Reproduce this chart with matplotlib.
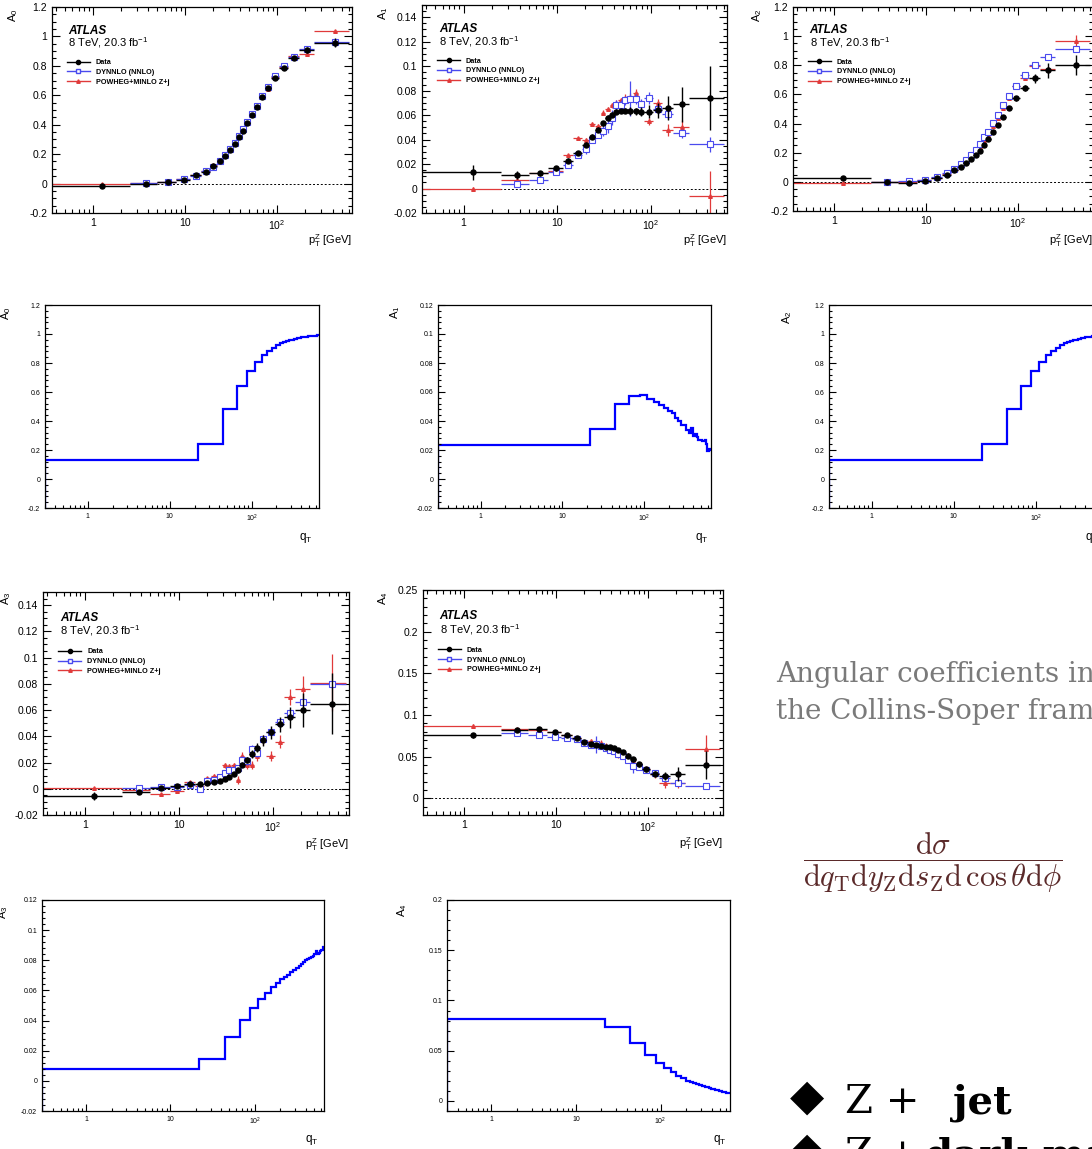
"""
Slide page: ATLAS angular coefficients A0..A4 vs pT(Z) (data, DYNNLO, POWHEG)
next to toy step histograms of the same coefficients vs qT.
"""

import matplotlib
matplotlib.use('Agg')
import matplotlib.pyplot as plt
import numpy as np
from matplotlib.lines import Line2D
from matplotlib.ticker import (FixedLocator, FixedFormatter, FuncFormatter,
                               LogLocator, MultipleLocator, NullFormatter)

plt.rcParams['font.family'] = ['Liberation Sans', 'DejaVu Sans']
plt.rcParams['mathtext.fontset'] = 'custom'
plt.rcParams['mathtext.rm'] = 'Liberation Sans'
plt.rcParams['mathtext.it'] = 'Liberation Sans:italic'

W, H = 1092, 1149

# ---------------------------------------------------------------------------
# ATLAS 8 TeV measurement (values read off the figure)
# DYNNLO has no prediction in the first bin -> nan
# ---------------------------------------------------------------------------
pt_edges = [0, 2.5, 5.0, 8.0, 11.4, 14.9, 18.5, 22.0, 25.5, 29.0, 32.6, 36.4,
            40.4, 44.9, 50.2, 56.4, 63.9, 73.4, 85.4, 105.0, 132.0, 173.0,
            253.0, 600.0]

a0_data = [-0.015, -0.005, 0.010, 0.027, 0.055, 0.082, 0.119, 0.153, 0.187, 0.228, 0.267, 0.315,
           0.360, 0.410, 0.465, 0.522, 0.586, 0.648, 0.720, 0.786, 0.853, 0.910, 0.957]
a0_data_err = [0.010, 0.008, 0.006, 0.006, 0.006, 0.006, 0.006, 0.006, 0.006, 0.006, 0.006, 0.006,
               0.006, 0.006, 0.006, 0.007, 0.007, 0.008, 0.010, 0.010, 0.014, 0.020, 0.030]
a0_dyn = [np.nan, 0.005, 0.012, 0.030, 0.052, 0.085, 0.115, 0.155, 0.192, 0.235, 0.275, 0.322,
          0.368, 0.420, 0.472, 0.530, 0.592, 0.655, 0.730, 0.797, 0.860, 0.915, 0.965]
a0_dyn_err = [0.004, 0.004, 0.004, 0.004, 0.004, 0.004, 0.004, 0.004, 0.004, 0.004, 0.004, 0.004,
              0.004, 0.004, 0.004, 0.004, 0.005, 0.005, 0.005, 0.005, 0.006, 0.008, 0.010]
a0_pow = [-0.005, 0.005, 0.012, 0.032, 0.058, 0.085, 0.124, 0.158, 0.190, 0.232, 0.270, 0.318,
          0.362, 0.412, 0.468, 0.525, 0.588, 0.645, 0.722, 0.790, 0.870, 0.880, 1.035]
a0_pow_err = [0.004, 0.004, 0.004, 0.004, 0.004, 0.004, 0.004, 0.004, 0.004, 0.004, 0.004, 0.004,
              0.004, 0.004, 0.004, 0.004, 0.005, 0.005, 0.005, 0.005, 0.006, 0.008, 0.012]

a1_data = [0.0132, 0.0110, 0.0124, 0.0166, 0.0226, 0.0290, 0.0358, 0.0425, 0.0480, 0.0532, 0.0577, 0.0604,
           0.0626, 0.0634, 0.0637, 0.0634, 0.0630, 0.0629, 0.0629, 0.0640, 0.0660, 0.0687, 0.0740]
a1_data_err = [0.006, 0.003, 0.002, 0.002, 0.002, 0.002, 0.002, 0.002, 0.002, 0.002, 0.002, 0.002,
               0.002, 0.002, 0.002, 0.003, 0.003, 0.004, 0.005, 0.006, 0.010, 0.014, 0.026]
a1_dyn = [np.nan, 0.0041, 0.0072, 0.0132, 0.0190, 0.0276, 0.0320, 0.0400, 0.0439, 0.0470, 0.0507, 0.0580,
          0.0680, 0.0680, 0.0720, 0.0735, 0.0730, 0.0690, 0.0740, 0.0650, 0.0610, 0.0450, 0.0360]
a1_dyn_err = [0.002, 0.002, 0.002, 0.002, 0.002, 0.002, 0.004, 0.002, 0.003, 0.004, 0.005, 0.006,
              0.004, 0.004, 0.004, 0.014, 0.004, 0.004, 0.005, 0.004, 0.004, 0.004, 0.006]
a1_pow = [0.0000, 0.0070, 0.0130, 0.0140, 0.0270, 0.0410, 0.0400, 0.0530, 0.0510, 0.0620, 0.0650, 0.0680,
          0.0700, 0.0720, 0.0740, 0.0750, 0.0780, 0.0690, 0.0550, 0.0700, 0.0480, 0.0500, -0.0060]
a1_pow_err = [0.001, 0.002, 0.001, 0.001, 0.001, 0.001, 0.001, 0.001, 0.002, 0.002, 0.002, 0.002,
              0.002, 0.002, 0.003, 0.003, 0.003, 0.003, 0.003, 0.003, 0.005, 0.006, 0.020]

a2_data = [0.025, 0.000, -0.005, 0.005, 0.025, 0.050, 0.078, 0.100, 0.128, 0.156, 0.186, 0.213,
           0.250, 0.294, 0.340, 0.390, 0.448, 0.510, 0.574, 0.645, 0.710, 0.765, 0.804]
a2_data_err = [0.010, 0.008, 0.008, 0.008, 0.008, 0.008, 0.008, 0.008, 0.008, 0.008, 0.008, 0.008,
               0.010, 0.010, 0.010, 0.012, 0.012, 0.014, 0.016, 0.020, 0.030, 0.050, 0.070]
a2_dyn = [np.nan, 0.000, 0.005, 0.015, 0.030, 0.060, 0.090, 0.120, 0.150, 0.185, 0.220, 0.260,
          0.305, 0.345, 0.405, 0.460, 0.525, 0.590, 0.655, 0.735, 0.800, 0.860, 0.910]
a2_dyn_err = [0.004, 0.004, 0.004, 0.004, 0.004, 0.004, 0.004, 0.004, 0.004, 0.004, 0.004, 0.004,
              0.004, 0.004, 0.004, 0.005, 0.005, 0.005, 0.005, 0.006, 0.008, 0.010, 0.015]
a2_pow = [-0.010, 0.000, 0.000, 0.010, 0.025, 0.055, 0.080, 0.110, 0.140, 0.170, 0.205, 0.240,
          0.285, 0.330, 0.380, 0.440, 0.505, 0.575, 0.655, 0.715, 0.795, 0.775, 0.965]
a2_pow_err = [0.004, 0.004, 0.004, 0.004, 0.004, 0.004, 0.004, 0.004, 0.004, 0.004, 0.004, 0.004,
              0.004, 0.004, 0.004, 0.005, 0.005, 0.005, 0.006, 0.006, 0.010, 0.015, 0.040]

a3_data = [-0.0057, -0.0023, 0.0005, 0.0020, 0.0034, 0.0039, 0.0047, 0.0054, 0.0062, 0.0075, 0.0090, 0.0110,
           0.0142, 0.0184, 0.0220, 0.0267, 0.0313, 0.0368, 0.0432, 0.0490, 0.0546, 0.0600, 0.0650]
a3_data_err = [0.003, 0.0015, 0.001, 0.001, 0.001, 0.001, 0.001, 0.001, 0.001, 0.001, 0.0015, 0.0015,
               0.002, 0.002, 0.0025, 0.003, 0.0035, 0.004, 0.005, 0.006, 0.008, 0.013, 0.023]
a3_dyn = [np.nan, 0.0008, 0.0010, 0.0010, 0.0030, 0.0000, 0.0060, 0.0070, 0.0090, 0.0120, 0.0140, 0.0140,
          0.0160, 0.0220, 0.0210, 0.0300, 0.0270, 0.0380, 0.0430, 0.0510, 0.0580, 0.0660, 0.0795]
a3_dyn_err = [0.0005, 0.001, 0.001, 0.001, 0.001, 0.001, 0.001, 0.001, 0.0015, 0.002, 0.002, 0.002,
              0.002, 0.003, 0.003, 0.003, 0.003, 0.002, 0.002, 0.002, 0.003, 0.003, 0.003]
a3_pow = [0.0005, -0.0010, -0.0040, -0.0020, 0.0050, 0.0020, 0.0080, 0.0100, 0.0080, 0.0180, 0.0170, 0.0180,
          0.0070, 0.0250, 0.0180, 0.0180, 0.0250, 0.0370, 0.0250, 0.0360, 0.0700, 0.0760, 0.0810]
a3_pow_err = [0.001, 0.001, 0.001, 0.001, 0.001, 0.001, 0.001, 0.001, 0.002, 0.002, 0.002, 0.002,
              0.003, 0.003, 0.003, 0.003, 0.004, 0.004, 0.004, 0.005, 0.006, 0.010, 0.022]

a4_data = [0.0756, 0.0820, 0.0828, 0.0800, 0.0765, 0.0723, 0.0680, 0.0655, 0.0640, 0.0630, 0.0622, 0.0613,
           0.0600, 0.0580, 0.0560, 0.0513, 0.0470, 0.0408, 0.0350, 0.0294, 0.0269, 0.0294, 0.0400]
a4_data_err = [0.003, 0.002, 0.002, 0.002, 0.002, 0.002, 0.002, 0.002, 0.002, 0.002, 0.002, 0.002,
               0.002, 0.002, 0.002, 0.003, 0.003, 0.003, 0.003, 0.003, 0.005, 0.008, 0.017]
a4_dyn = [np.nan, 0.0790, 0.0760, 0.0740, 0.0730, 0.0710, 0.0660, 0.0640, 0.0650, 0.0630, 0.0600, 0.0580,
          0.0570, 0.0530, 0.0510, 0.0460, 0.0390, 0.0380, 0.0340, 0.0300, 0.0250, 0.0190, 0.0145]
a4_dyn_err = [0.002, 0.002, 0.002, 0.002, 0.002, 0.002, 0.002, 0.004, 0.010, 0.003, 0.003, 0.003,
              0.003, 0.003, 0.004, 0.004, 0.009, 0.004, 0.003, 0.003, 0.003, 0.003, 0.003]
a4_pow = [0.0870, 0.0830, 0.0820, 0.0800, 0.0760, 0.0720, 0.0660, 0.0690, 0.0650, 0.0670, 0.0630, 0.0610,
          0.0580, 0.0520, 0.0500, 0.0500, 0.0460, 0.0400, 0.0350, 0.0290, 0.0180, 0.0190, 0.0590]
a4_pow_err = [0.002, 0.002, 0.002, 0.002, 0.002, 0.002, 0.002, 0.002, 0.002, 0.003, 0.003, 0.003,
              0.003, 0.003, 0.003, 0.004, 0.004, 0.004, 0.004, 0.004, 0.005, 0.006, 0.017]

# ---------------------------------------------------------------------------
# Step histograms vs qT (30 bins)
# ---------------------------------------------------------------------------
qt_edges = np.linspace(0, 660, 31)

a0_step = [0.133, 0.244, 0.483, 0.640, 0.746, 0.810, 0.856, 0.884, 0.906, 0.923,
           0.935, 0.944, 0.951, 0.957, 0.962, 0.966, 0.970, 0.973, 0.976, 0.978,
           0.980, 0.982, 0.984, 0.985, 0.986, 0.987, 0.988, 0.989, 0.990, 0.991]
a1_step = [0.0235, 0.0343, 0.0515, 0.0575, 0.0578, 0.0550, 0.0530, 0.0510, 0.0490, 0.0470,
           0.0455, 0.0420, 0.0400, 0.0375, 0.0370, 0.0340, 0.0320, 0.0350, 0.0300, 0.0310,
           0.0290, 0.0270, 0.0270, 0.0260, 0.0260, 0.0270, 0.0240, 0.0190, 0.0210, 0.0200]
a2_step = [0.133, 0.244, 0.483, 0.640, 0.746, 0.810, 0.856, 0.884, 0.906, 0.923,
           0.935, 0.944, 0.951, 0.957, 0.962, 0.966, 0.970, 0.973, 0.976, 0.978,
           0.980, 0.982, 0.984, 0.985, 0.986, 0.987, 0.988, 0.989, 0.990, 0.991]
a3_step = [0.0079, 0.0142, 0.0288, 0.0402, 0.0481, 0.0540, 0.0586, 0.0623, 0.0652, 0.0677,
           0.0690, 0.0705, 0.0720, 0.0735, 0.0750, 0.0760, 0.0775, 0.0790, 0.0800, 0.0810,
           0.0812, 0.0820, 0.0830, 0.0840, 0.0860, 0.0845, 0.0850, 0.0860, 0.0870, 0.0885]
a4_step = [0.0820, 0.0740, 0.0580, 0.0460, 0.0380, 0.0327, 0.0287, 0.0253, 0.0227, 0.0203,
           0.0190, 0.0178, 0.0168, 0.0158, 0.0150, 0.0142, 0.0135, 0.0128, 0.0122, 0.0116,
           0.0110, 0.0105, 0.0101, 0.0097, 0.0093, 0.0090, 0.0087, 0.0084, 0.0081, 0.0078]

LEGEND_LABELS = ['Data', 'DYNNLO (NNLO)', 'POWHEG+MINLO Z+j']
XTICK_LABELS = ['1', '10', r'$\mathregular{10^{2}}$']

DATA_COL = 'black'
DYN_COL = '#4a4aee'
POW_COL = '#e03a3a'


# ---------------------------------------------------------------------------
# Helpers
# ---------------------------------------------------------------------------

def px_axes(fig, left, top, right, bottom):
    """Axes from a pixel box (origin top-left)."""
    return fig.add_axes([left / W, 1 - bottom / H, (right - left) / W, (bottom - top) / H])


def fig_text(fig, x, y, s, **kw):
    return fig.text(x / W, 1 - y / H, s, **kw)


def g_fmt(v, pos):
    v = round(v, 6)
    if v == 0:
        return '0'
    return f'{v:g}'


def style_log_x(ax, xlim, size):
    ax.set_xscale('log')
    ax.set_xlim(*xlim)
    ax.xaxis.set_major_locator(FixedLocator([1, 10, 100]))
    ax.xaxis.set_major_formatter(FixedFormatter(XTICK_LABELS))
    ax.xaxis.set_minor_locator(LogLocator(base=10, subs=np.arange(2, 10)))
    ax.xaxis.set_minor_formatter(NullFormatter())
    ax.tick_params(axis='x', labelsize=size)


def draw_atlas(ax, data, data_err, dyn, dyn_err, pw, pw_err, ylim, major, minor):
    edges = np.array(pt_edges)
    x = 0.5 * (edges[1:] + edges[:-1])
    xe = 0.5 * (edges[1:] - edges[:-1])

    ax.axhline(0, color='black', lw=0.7, ls=(0, (2, 2)), zorder=1)
    ax.errorbar(x, pw, xerr=xe, yerr=pw_err, fmt='^', color=POW_COL, ms=2.6,
                lw=0.9, capsize=0, zorder=2)
    ax.errorbar(x, dyn, xerr=xe, yerr=dyn_err, fmt='s', color=DYN_COL, mfc='white',
                mec=DYN_COL, mew=0.8, ms=3.8, lw=0.9, capsize=0, zorder=3)
    ax.errorbar(x, data, xerr=xe, yerr=data_err, fmt='o', color=DATA_COL, ms=3.6,
                lw=1.0, capsize=0, zorder=4)

    style_log_x(ax, (0.36, 650), 7.5)
    ax.set_ylim(*ylim)
    ax.yaxis.set_major_locator(MultipleLocator(major))
    ax.yaxis.set_minor_locator(MultipleLocator(minor))
    ax.yaxis.set_major_formatter(FuncFormatter(g_fmt))
    ax.tick_params(axis='y', labelsize=7.5)
    ax.tick_params(which='both', direction='in', top=True, right=True, width=0.8)
    ax.tick_params(which='major', length=6)
    ax.tick_params(which='minor', length=3)
    for s in ax.spines.values():
        s.set_linewidth(0.9)

    ax.text(0.055, 0.885, 'ATLAS', transform=ax.transAxes, fontsize=8.5,
            fontweight='bold', fontstyle='italic', va='center')
    ax.text(0.055, 0.825, r'8 TeV, 20.3 fb$\mathregular{^{-1}}$', transform=ax.transAxes,
            fontsize=8, va='center')

    handles = [
        Line2D([], [], color=DATA_COL, marker='o', ms=3, lw=1),
        Line2D([], [], color=DYN_COL, marker='s', mfc='white', ms=3, lw=1),
        Line2D([], [], color=POW_COL, marker='^', ms=2.5, lw=1),
    ]
    ax.legend(handles, LEGEND_LABELS, loc='upper left', bbox_to_anchor=(0.04, 0.76),
              frameon=False, prop={'weight': 'bold', 'size': 5.2},
              handlelength=3.2, handletextpad=0.8, labelspacing=0.35,
              borderaxespad=0)


def draw_step(ax, values, ylim, major, minor):
    xlo = 0.3
    edges = qt_edges.copy()
    edges[0] = xlo
    ax.stairs(values, edges, color='#0000ff', lw=1.6, baseline=None)
    ax.vlines(xlo, ylim[0], values[0], color='#0000ff', lw=1.6)

    style_log_x(ax, (xlo, qt_edges[-1]), 5)
    ax.set_ylim(*ylim)
    ax.yaxis.set_major_locator(MultipleLocator(major))
    ax.yaxis.set_minor_locator(MultipleLocator(minor))
    ax.yaxis.set_major_formatter(FuncFormatter(g_fmt))
    ax.tick_params(axis='y', labelsize=5)
    ax.tick_params(which='both', direction='in', top=False, right=False, width=0.8)
    ax.tick_params(which='major', length=5)
    ax.tick_params(which='minor', length=2.5)
    for s in ax.spines.values():
        s.set_linewidth(0.9)


# ---------------------------------------------------------------------------
# Figure
# ---------------------------------------------------------------------------
fig = plt.figure(figsize=(W / 100, H / 100), dpi=100)
fig.patch.set_facecolor('white')

atlas_panels = [
    # box, values, ylim, major, minor, ylabel pos, xlabel pos, name
    ((52, 7, 352, 213), (a0_data, a0_data_err, a0_dyn, a0_dyn_err, a0_pow, a0_pow_err),
     (-0.2, 1.2), 0.2, 0.05, (13, 15), (352, 241), 'A_0'),
    ((422, 5, 727, 213), (a1_data, a1_data_err, a1_dyn, a1_dyn_err, a1_pow, a1_pow_err),
     (-0.02, 0.15), 0.02, 0.005, (383, 13), (727, 241), 'A_1'),
    ((793, 7, 1093, 211), (a2_data, a2_data_err, a2_dyn, a2_dyn_err, a2_pow, a2_pow_err),
     (-0.2, 1.2), 0.2, 0.05, (757, 15), (1093, 241), 'A_2'),
    ((43, 592, 349, 815), (a3_data, a3_data_err, a3_dyn, a3_dyn_err, a3_pow, a3_pow_err),
     (-0.02, 0.15), 0.02, 0.005, (6, 598), (349, 845), 'A_3'),
    ((423, 590, 723, 815), (a4_data, a4_data_err, a4_dyn, a4_dyn_err, a4_pow, a4_pow_err),
     (-0.02, 0.25), 0.05, 0.01, (383, 598), (723, 844), 'A_4'),
]

for box, vals, ylim, major, minor, ylab, xlab, name in atlas_panels:
    ax = px_axes(fig, *box)
    draw_atlas(ax, *vals, ylim, major, minor)
    fig_text(fig, *ylab, rf'$\mathregular{{{name}}}$', rotation=90, fontsize=8,
             ha='center', va='center')
    fig_text(fig, *xlab, r'$\mathregular{p_{T}^{Z}}$ [GeV]', fontsize=8,
             ha='right', va='center')

step_panels = [
    ((45, 305, 319, 508), a0_step, (-0.2, 1.2), 0.2, 0.04, (6, 313), (306, 538), 'A_0'),
    ((438, 305, 711, 508), a1_step, (-0.02, 0.12), 0.02, 0.004, (395, 312), (702, 538), 'A_1'),
    ((829, 305, 1103, 508), a2_step, (-0.2, 1.2), 0.2, 0.04, (787, 317), (1092, 538), 'A_2'),
    ((42, 900, 324, 1111), a3_step, (-0.02, 0.12), 0.02, 0.004, (3, 912), (312, 1140), 'A_3'),
    ((447, 900, 730, 1111), a4_step, (-0.01, 0.2), 0.05, 0.01, (402, 910), (720, 1140), 'A_4'),
]

for box, vals, ylim, major, minor, ylab, xlab, name in step_panels:
    ax = px_axes(fig, *box)
    draw_step(ax, vals, ylim, major, minor)
    fig_text(fig, *ylab, rf'$\mathregular{{{name}}}$', rotation=90, fontsize=8,
             ha='center', va='center')
    fig_text(fig, *xlab, r'$\mathregular{q_T}$', fontsize=8.5, ha='center', va='center')

# slide text on the right
GREY = '#7a7a7a'
fig_text(fig, 776, 682, 'Angular coefficients in', fontsize=20, color=GREY,
         family='DejaVu Serif', va='baseline')
fig_text(fig, 776, 719, 'the Collins-Soper frame', fontsize=20, color=GREY,
         family='DejaVu Serif', va='baseline')

fig_text(fig, 933, 863,
         r'$\dfrac{\mathrm{d}\sigma}{\mathrm{d}q_{\mathrm{T}}\mathrm{d}y_{\mathrm{Z}}'
         r'\mathrm{d}s_{\mathrm{Z}}\mathrm{d}\,\cos\theta\mathrm{d}\phi}$',
         fontsize=22, color='#5b2a2a', ha='center', va='center', math_fontfamily='cm')

for y, word in [(1113, 'jet'), (1166, 'dark matter')]:
    fig_text(fig, 790, y - 16, '\u25c6', fontsize=32, family='DejaVu Sans',
             va='center', ha='left')
    fig_text(fig, 845, y, 'Z +', fontsize=29, family='DejaVu Serif', va='baseline')
    fig_text(fig, 953 if word == 'jet' else 925, y, word, fontsize=29,
             family='DejaVu Serif', fontweight='bold', va='baseline')

fig.savefig('out.png', dpi=100)
